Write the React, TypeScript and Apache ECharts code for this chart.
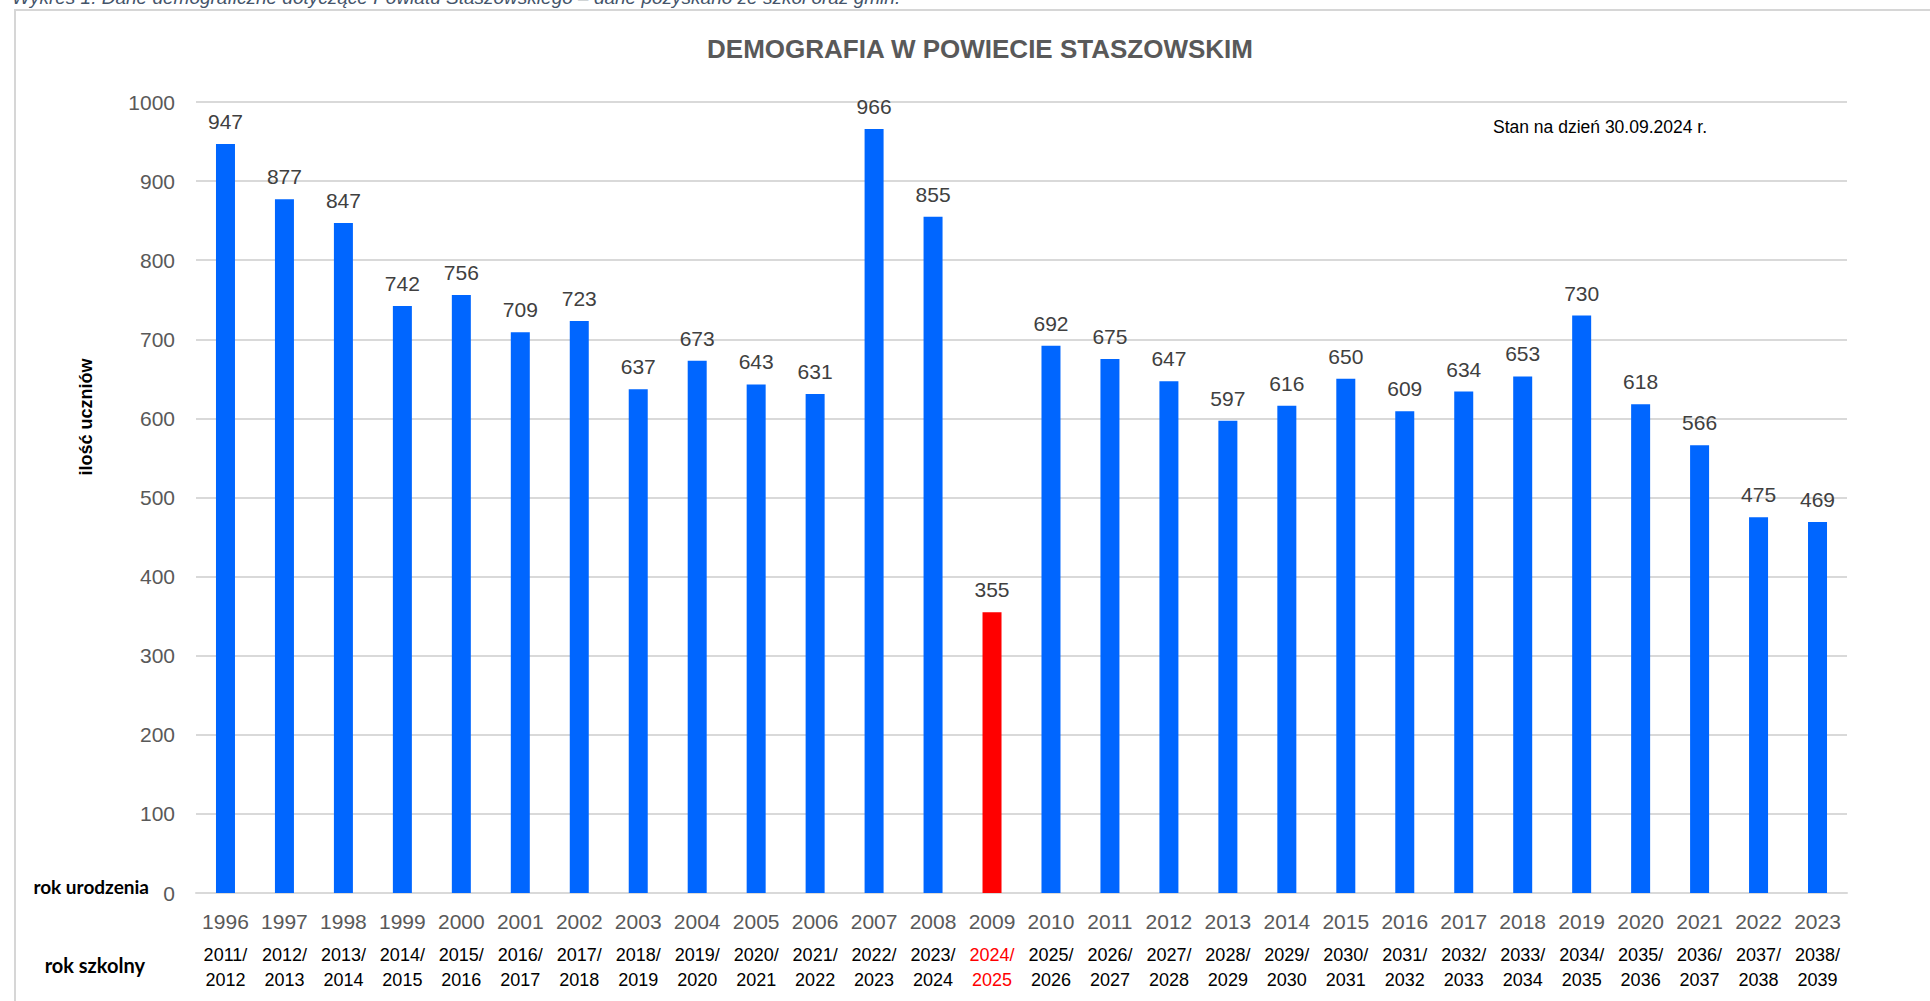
import React, { useEffect, useRef } from "react";
import * as echarts from "echarts";

const years = ["1996","1997","1998","1999","2000","2001","2002","2003","2004","2005","2006","2007","2008","2009","2010","2011","2012","2013","2014","2015","2016","2017","2018","2019","2020","2021","2022","2023"];
const schoolYears = ["2011/\n2012","2012/\n2013","2013/\n2014","2014/\n2015","2015/\n2016","2016/\n2017","2017/\n2018","2018/\n2019","2019/\n2020","2020/\n2021","2021/\n2022","2022/\n2023","2023/\n2024","2024/\n2025","2025/\n2026","2026/\n2027","2027/\n2028","2028/\n2029","2029/\n2030","2030/\n2031","2031/\n2032","2032/\n2033","2033/\n2034","2034/\n2035","2035/\n2036","2036/\n2037","2037/\n2038","2038/\n2039"];
const students = [947,877,847,742,756,709,723,637,673,643,631,966,855,355,692,675,647,597,616,650,609,634,653,730,618,566,475,469];
const highlightYear = "2009";
const yTicks = { min: 0, max: 1000, interval: 100 };

const titleText = "DEMOGRAFIA W POWIECIE STASZOWSKIM";
const captionText = "Wykres 1. Dane demograficzne dotyczące Powiatu Staszowskiego – dane pozyskano ze szkół oraz gmin.";
const noteText = "Stan na dzień 30.09.2024 r.";

const ARIAL = '"Liberation Sans", Arial, sans-serif';
const CALIBRI = 'Lato, "Open Sans", sans-serif';
const BLUE = "#0066FF";
const RED = "#FF0000";

export default function App() {
  const ref = useRef<HTMLDivElement>(null);
  useEffect(() => {
    if (!ref.current) return;
    const chart = echarts.init(ref.current, undefined, { renderer: "svg" });
    const hi = years.indexOf(highlightYear);
    chart.setOption({
      animation: false,
      backgroundColor: "#ffffff",
      grid: { left: 196, right: 83, top: 102, bottom: 108 },
      xAxis: [
        {
          type: "category",
          data: years,
          axisTick: { show: false },
          axisLine: { lineStyle: { color: "#d9d9d9", width: 2 } },
          axisLabel: { interval: 0, color: "#595959", fontSize: 21, fontFamily: ARIAL, margin: 18 },
        },
        {
          type: "category",
          position: "bottom",
          data: schoolYears.map((s, i) => (i === hi ? { value: s, textStyle: { color: RED } } : s)),
          axisTick: { show: false },
          axisLine: { show: false },
          axisLabel: { interval: 0, color: "#000000", fontSize: 18, lineHeight: 25, fontFamily: ARIAL, margin: 49 },
        },
      ],
      yAxis: {
        type: "value",
        min: yTicks.min,
        max: yTicks.max,
        interval: yTicks.interval,
        axisLine: { show: false },
        axisTick: { show: false },
        splitLine: { lineStyle: { color: "#d9d9d9", width: 2 } },
        axisLabel: {
          color: "#595959",
          fontSize: 21,
          fontFamily: ARIAL,
          margin: 21,
          formatter: (v: number) => String(v),
        },
      },
      series: [
        {
          type: "bar",
          xAxisIndex: 0,
          barWidth: 19,
          data: students.map((v, i) => ({ value: v, itemStyle: { color: i === hi ? RED : BLUE } })),
          label: {
            show: true,
            position: "top",
            distance: 12,
            color: "#404040",
            fontSize: 21,
            fontFamily: ARIAL,
          },
        },
      ],
      graphic: [
        {
          type: "rect",
          shape: { x: 15, y: 10, width: 2000, height: 1100 },
          style: { fill: "none", stroke: "#d6d6d6", lineWidth: 2 },
          silent: true,
          z: -10,
        },
        {
          type: "text",
          x: 12,
          y: -3,
          style: {
            text: captionText,
            fill: "#44546A",
            font: `italic 19px ${ARIAL}`,
            textAlign: "left",
            textVerticalAlign: "middle",
          },
        },
        {
          type: "text",
          x: 980,
          y: 49,
          style: {
            text: titleText,
            fill: "#595959",
            font: `bold 26px ${ARIAL}`,
            textAlign: "center",
            textVerticalAlign: "middle",
          },
        },
        {
          type: "text",
          x: 1493,
          y: 127,
          style: {
            text: noteText,
            fill: "#000000",
            font: `17.5px ${ARIAL}`,
            textAlign: "left",
            textVerticalAlign: "middle",
          },
        },
        {
          type: "text",
          x: 86,
          y: 417,
          rotation: Math.PI / 2,
          style: {
            text: "ilość uczniów",
            fill: "#000000",
            font: `bold 18px ${ARIAL}`,
            textAlign: "center",
            textVerticalAlign: "middle",
          },
        },
        {
          type: "text",
          x: 149,
          y: 886,
          style: {
            text: "rok urodzenia",
            fill: "#000000",
            font: `bold 19px ${CALIBRI}`,
            textAlign: "right",
            textVerticalAlign: "middle",
          },
        },
        {
          type: "text",
          x: 145,
          y: 965,
          style: {
            text: "rok szkolny",
            fill: "#000000",
            font: `bold 20px ${CALIBRI}`,
            textAlign: "right",
            textVerticalAlign: "middle",
          },
        },
      ],
    });
    return () => chart.dispose();
  }, []);
  return (
    <div
      ref={ref}
      style={{ position: "absolute", left: 0, top: 0, width: 1930, height: 1001 }}
    />
  );
}
